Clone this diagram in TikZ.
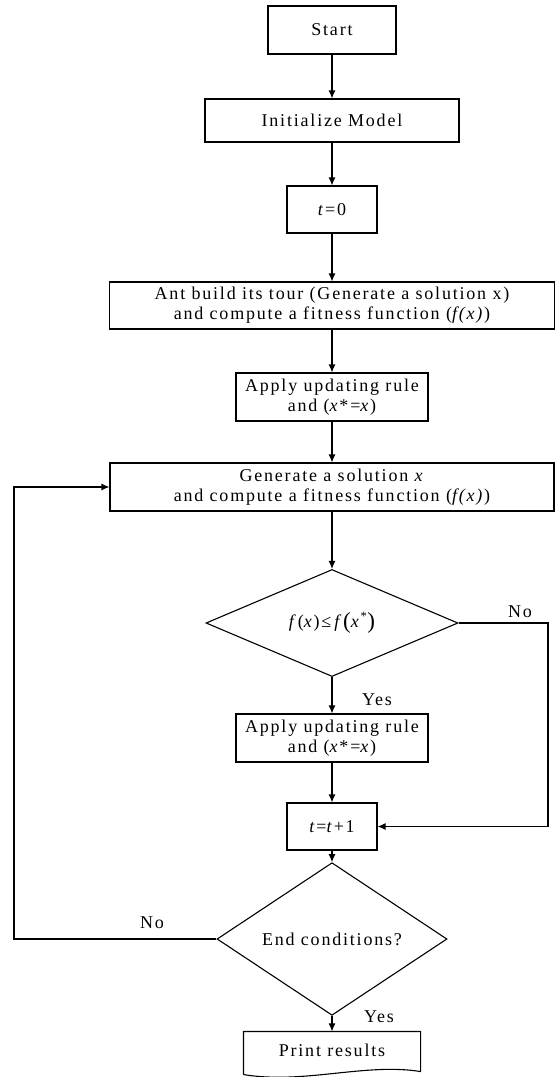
\documentclass[tikz,border=0pt]{standalone}
\usepackage{fontspec}
\setmainfont{Liberation Serif}[LetterSpace=10]
\usetikzlibrary{arrows.meta,shapes.geometric}

\newcommand{\bigpar}[1]{\raisebox{-1.5pt}{\fontsize{23}{23}\selectfont #1}}

\begin{document}
\begin{tikzpicture}[-{Latex[length=8pt,width=7pt]},x=1pt,y=-1pt,line width=1.1pt,
   every node/.style={font=\fontsize{18}{20}\selectfont,align=center,inner sep=2pt},
   box/.style={draw,rectangle},
   test/.style={draw,diamond,inner sep=0pt}]
   \useasboundingbox (0,0) rectangle (557,1077);

   \node[box,minimum width=128pt,minimum height=48pt] (start) at (332,30) {Start};
   \node[box,minimum width=254pt,minimum height=43pt] (init) at (332,120.5) {Initialize Model};
   \node[box,minimum width=90pt,minimum height=47pt] (t0) at (332,209.5) {\textit{t}=0};
   \node[box,minimum width=445pt,minimum height=47pt] (ant) at (332,305.5)
      {Ant build its tour (Generate a solution x)\\ and compute a fitness function (\textit{f(x)})};
   \node[box,minimum width=192pt,minimum height=48pt] (upd1) at (332,397)
      {Apply updating rule\\ and (\textit{x}*=\textit{x})};
   \node[box,minimum width=444pt,minimum height=48pt] (gen) at (332,487)
      {Generate a solution \textit{x}\\ and compute a fitness function (\textit{f(x)})};
   \node[test,minimum width=252pt,minimum height=100pt] (cmp) at (332,623)
      {\textit{f}(\textit{x})≤\,\textit{f}\bigpar{(}\textit{x}\textsuperscript{*}\bigpar{)}};
   \node[box,minimum width=192pt,minimum height=48pt] (upd2) at (332,738)
      {Apply updating rule\\ and (\textit{x}*=\textit{x})};
   \node[box,minimum width=90pt,minimum height=47pt] (tinc) at (332,826.5) {\textit{t}=\textit{t}+1};
   \node[test,minimum width=230pt,minimum height=98pt] (stop) at (332,939) {End conditions?};
   \node[minimum width=176pt,minimum height=42pt] (prn) at (332,1053) {};
   \node (prntxt) at (332,1050) {Print results};

   \node (yes1) at (377,700) {Yes};
   \node (no1) at (520,612) {No};
   \node (yes2) at (379,1017) {Yes};
   \node (no2) at (152,923) {No};

   \coordinate (rcorner) at (548,623);
   \coordinate (lcorner) at (14,939);

   \path (start) edge (init);
   \path (init) edge (t0);
   \path (t0) edge (ant);
   \path (ant) edge (upd1);
   \path (upd1) edge (gen);
   \path (gen) edge (cmp);
   \path (cmp) edge (upd2);
   \path (upd2) edge (tinc);
   \path (tinc) edge (stop);
   \path (stop) edge (prn.north);
   \draw (cmp.east) -- (rcorner) |- (tinc.east);
   \draw (stop.west) -- (lcorner) |- (gen.west);

   \draw[-] (prn.south west) -- (prn.north west) -- (prn.north east) -- ([yshift=3pt]prn.south east)
      .. controls ([xshift=-55pt,yshift=12pt]prn.south east) and ([xshift=60pt,yshift=-10pt]prn.south west)
      .. (prn.south west);
\end{tikzpicture}
\end{document}
